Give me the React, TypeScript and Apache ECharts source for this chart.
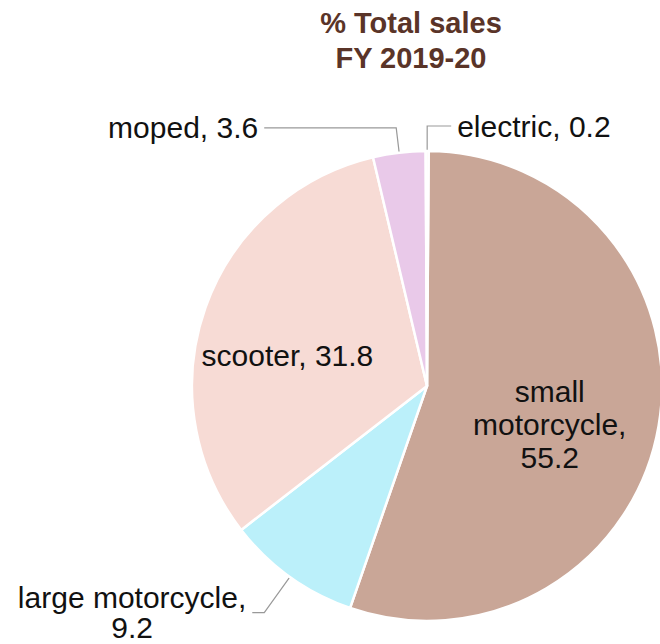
import React, { useEffect, useRef } from "react";
import * as echarts from "echarts";

const titleLines = ["% Total sales", "FY 2019-20"];
const categories = ["small motorcycle", "large motorcycle", "scooter", "moped", "electric"];
const values = [55.2, 9.2, 31.8, 3.6, 0.2];
const labelNames = ["small\nmotorcycle,", "large motorcycle,", "scooter,", "moped,", "electric,"];
const colors = ["#c9a697", "#bbf0fa", "#f7dbd5", "#e9c9e9", "#fbf7f4"];

export default function App() {
  const ref = useRef<HTMLDivElement>(null);
  useEffect(() => {
    document.body.style.margin = "0";
    if (!ref.current) return;
    const chart = echarts.init(ref.current, null, { renderer: "svg" });
    const font = "'Liberation Sans', Arial, Helvetica, sans-serif";
    const itemCfg: any[] = [
      {
        label: {
          position: "inside",
          offset: [4, 18],
          formatter: (p: any) => `${labelNames[p.dataIndex]}\n${p.value}`,
          lineHeight: 33,
          align: "center",
        },
      },
      {
        label: {
          position: "outside",
          formatter: (p: any) => `{a|${labelNames[p.dataIndex]}}\n{a|${p.value}}`,
          rich: { a: { fontSize: 30, lineHeight: 30, align: "center", color: "#111", fontFamily: font } },
        },
        labelLine: { length: 44, length2: 12 },
      },
      {
        label: { position: "inside", offset: [-26, 10] },
      },
      {
        label: { position: "outside" },
        labelLine: { length: 25, length2: 132 },
      },
      {
        label: { position: "outside" },
        labelLine: { length: 25, length2: 24 },
      },
    ];
    const data = categories.map((name, i) => ({
      name,
      value: values[i],
      itemStyle: { color: colors[i] },
      ...itemCfg[i],
    }));
    chart.setOption({
      animation: false,
      title: {
        text: titleLines.join("\n"),
        left: 406,
        top: 0,
        textAlign: "center",
        textStyle: {
          fontFamily: font,
          fontSize: 29,
          fontWeight: "bold",
          color: "#5a3428",
          lineHeight: 35,
        },
      },
      series: [
        {
          type: "pie",
          center: [427, 386],
          radius: 235,
          startAngle: 89.6,
          clockwise: true,
          avoidLabelOverlap: false,
          itemStyle: { borderColor: "#ffffff", borderWidth: 2.5 },
          label: {
            fontFamily: font,
            fontSize: 30,
            color: "#111",
            formatter: (p: any) => `${labelNames[p.dataIndex]} ${p.value}`,
            distanceToLabelLine: 6,
          },
          labelLine: { lineStyle: { color: "#999", width: 1.2 } },
          data,
        },
      ],
    });
    return () => chart.dispose();
  }, []);
  return <div ref={ref} style={{ width: 660, height: 644 }} />;
}
